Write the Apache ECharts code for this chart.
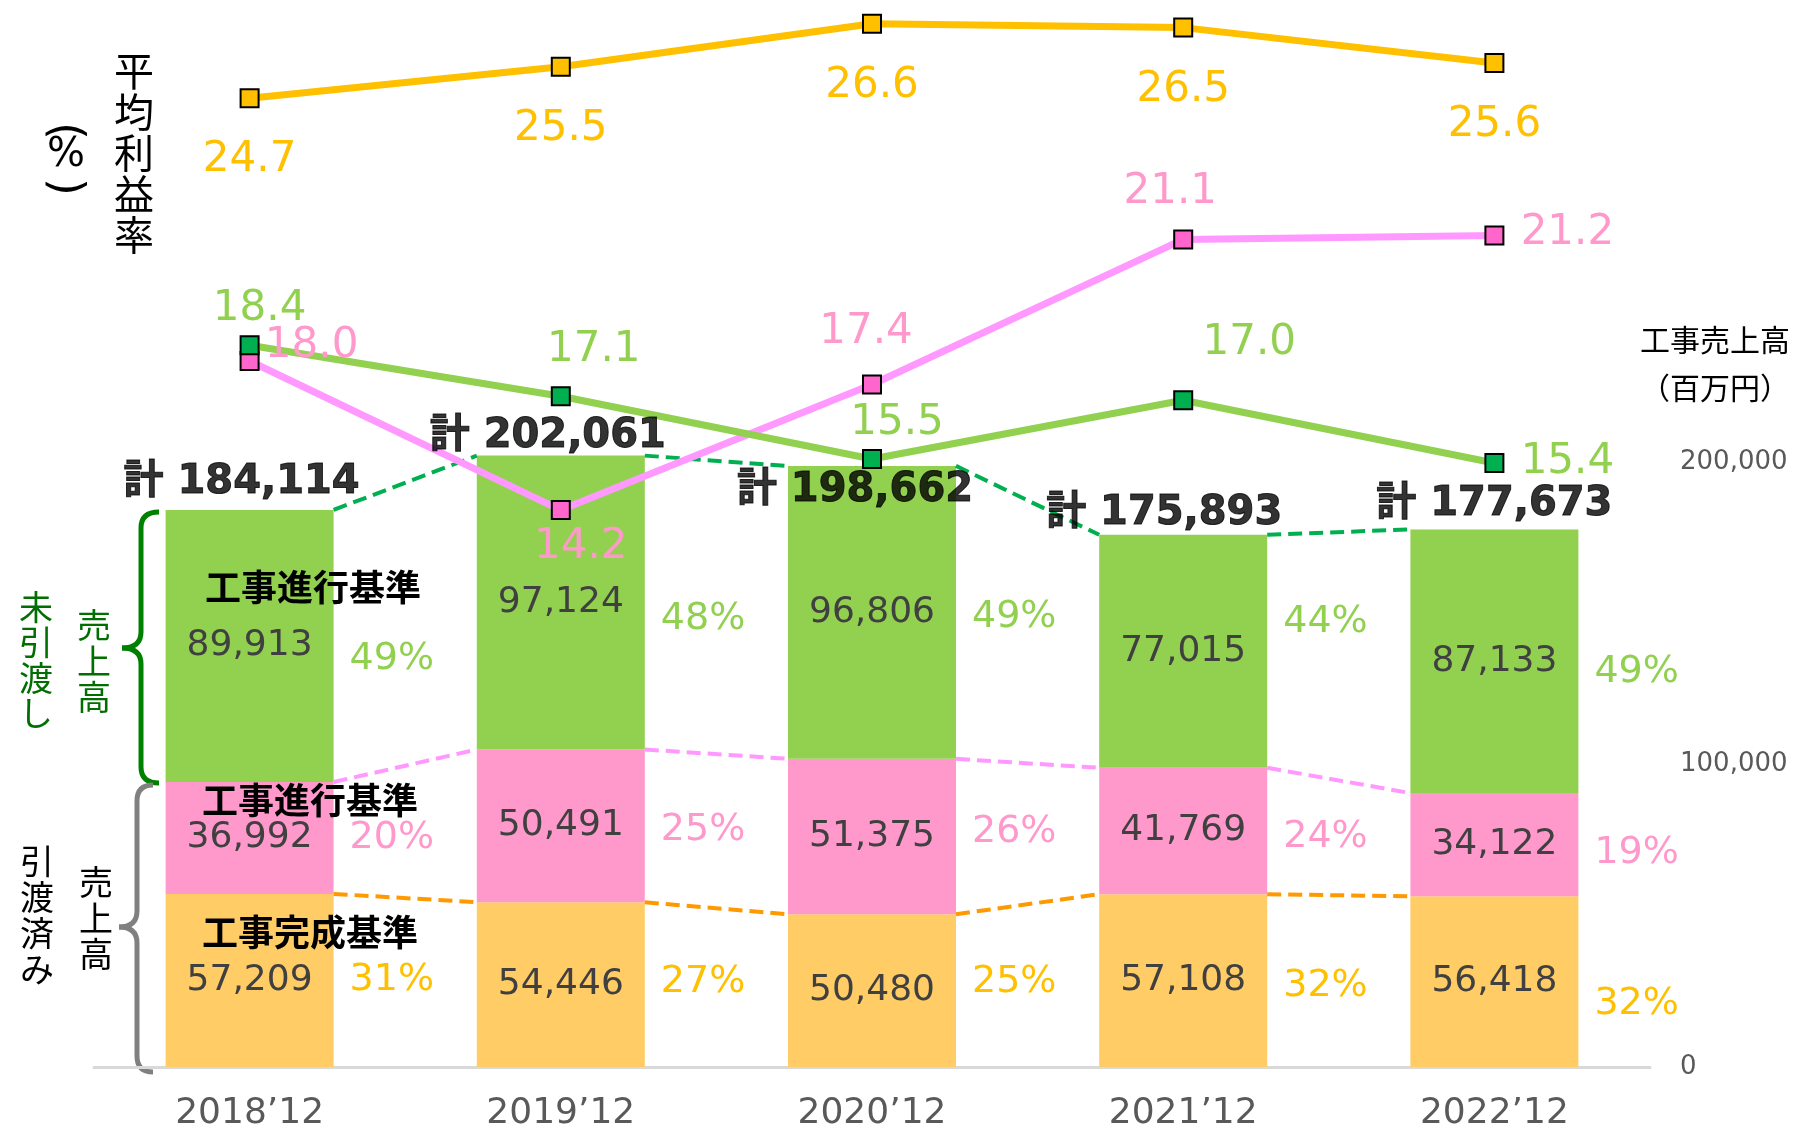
<!DOCTYPE html>
<html>
<head>
<meta charset="utf-8">
<script src="https://cdn.jsdelivr.net/npm/echarts@6/dist/echarts.min.js"></script>
<style>
    html, body { margin: 0; padding: 0; background: #fff; }
    #main { width: 1801px; height: 1133px; }
</style>
</head>
<body>
<div id="main"></div>
<script>
// 決算期
var categories = ['2018’12', '2019’12', '2020’12', '2021’12', '2022’12'];
// 工事売上高（百万円）
var completedSales = [57209, 54446, 50480, 57108, 56418];      // 引渡済み・工事完成基準
var progressDelivered = [36992, 50491, 51375, 41769, 34122];   // 引渡済み・工事進行基準
var progressUndelivered = [89913, 97124, 96806, 77015, 87133]; // 未引渡し・工事進行基準
var totals = [184114, 202061, 198662, 175893, 177673];
// 構成比（%）
var completedShare = [31, 27, 25, 32, 32];
var deliveredShare = [20, 25, 26, 24, 19];
var undeliveredShare = [49, 48, 49, 44, 49];
// 平均利益率（%）
var marginCompleted = [24.7, 25.5, 26.6, 26.5, 25.6];
var marginDelivered = [18.0, 14.2, 17.4, 21.1, 21.2];
var marginUndelivered = [18.4, 17.1, 15.5, 17.0, 15.4];
// 右軸の目盛
var salesTicks = [0, 100000, 200000];

/**
 * ラベル位置の微調整（px）
 */
var totalLabelShift = [[-8, -27], [-13, -19], [-17, 25], [-19, -21], [0, -25]];
var undeliveredPctShift = [13, 17, 5, -29, 11];
var deliveredPctShift = [0, 4, -4, 6, 8];
var completedPctShift = [0, -3, -9, 6, 22];
var marginCompletedShift = [[0, 62], [0, 62], [0, 62], [0, 62], [0, 62]];
var marginDeliveredShift = [[62, -15], [20, 37], [-6, -52], [-13, -47], [73, -2]];
var marginUndeliveredShift = [[10, -36], [33, -46], [25, -36], [66, -57], [73, -1]];

var numFont = "'DejaVu Sans', 'Noto Sans CJK JP', sans-serif";
var jpFont = "'Noto Sans CJK JP', sans-serif";
var BAR_W = 168;

var chart = echarts.init(document.getElementById('main'));

function fmt(v) {
    return Number(v).toLocaleString('en-US');
}

/**
 * 積み上げ棒（工事売上高）
 */
function salesBar(name, values, color) {
    return {
        name: name,
        type: 'bar',
        stack: 'sales',
        barWidth: BAR_W,
        barGap: '-100%',
        itemStyle: { color: color },
        label: {
            show: true,
            position: 'inside',
            fontSize: 36,
            color: '#404040',
            fontFamily: numFont,
            formatter: function (p) { return fmt(p.value); }
        },
        data: values
    };
}

/**
 * 構成比ラベル用の透明な棒
 */
function shareBar(values, shares, color, shifts) {
    return {
        type: 'bar',
        stack: 'share',
        barWidth: BAR_W,
        barGap: '-100%',
        silent: true,
        itemStyle: { color: 'rgba(0,0,0,0)' },
        label: {
            show: true,
            position: 'right',
            distance: 16,
            fontSize: 38,
            color: color,
            fontFamily: numFont,
            formatter: function (p) { return shares[p.dataIndex] + '%'; }
        },
        data: values.map(function (v, i) {
            return { value: v, label: { offset: [0, shifts[i]] } };
        })
    };
}

/**
 * 棒と棒を結ぶ破線
 */
function connector(tops, color) {
    var data = [];
    for (var i = 0; i < tops.length - 1; i++) {
        data.push([i, tops[i], tops[i + 1]]);
    }
    return {
        type: 'custom',
        silent: true,
        z: 3,
        encode: { x: 0, y: [1, 2] },
        renderItem: function (params, api) {
            var a = api.coord([api.value(0), api.value(1)]);
            var b = api.coord([api.value(0) + 1, api.value(2)]);
            var half = BAR_W / 2;
            return {
                type: 'line',
                shape: { x1: a[0] + half, y1: a[1], x2: b[0] - half, y2: b[1] },
                style: { stroke: color, lineWidth: 4, lineDash: [14, 7] }
            };
        },
        data: data
    };
}

/**
 * 平均利益率の折れ線
 */
function marginLine(name, values, lineColor, markerColor, labelColor, shifts) {
    return {
        name: name,
        type: 'line',
        yAxisIndex: 1,
        z: 6,
        symbol: 'rect',
        symbolSize: 18,
        lineStyle: { color: lineColor, width: 7 },
        itemStyle: { color: markerColor, borderColor: '#000', borderWidth: 2 },
        label: {
            show: true,
            position: 'inside',
            fontSize: 42,
            color: labelColor,
            fontFamily: numFont,
            formatter: function (p) { return p.value.toFixed(1); }
        },
        data: values.map(function (v, i) {
            return { value: v, label: { offset: shifts[i] } };
        })
    };
}

var topCompleted = completedSales.slice();
var topDelivered = completedSales.map(function (v, i) { return v + progressDelivered[i]; });
var topAll = topDelivered.map(function (v, i) { return v + progressUndelivered[i]; });

/**
 * 縦書きテキスト
 */
function vText(str, x, y, size, lh, color) {
    return {
        type: 'text',
        z: 100,
        x: x,
        y: y,
        style: {
            text: str.split('').join('\n'),
            fontSize: size,
            fontFamily: jpFont,
            fill: color,
            align: 'center',
            textAlign: 'center',
            verticalAlign: 'top',
            textVerticalAlign: 'top',
            lineHeight: lh
        }
    };
}

function hText(str, x, y, size, color, weight, family, rotation) {
    return {
        type: 'text',
        z: 100,
        x: x,
        y: y,
        rotation: rotation || 0,
        style: {
            text: str,
            fontSize: size,
            fontWeight: weight || 'normal',
            fontFamily: family || jpFont,
            fill: color,
            align: 'center',
            textAlign: 'center',
            verticalAlign: 'middle',
            textVerticalAlign: 'middle'
        }
    };
}

/**
 * 中括弧（xEnd:端, xs:縦線, xTip:先端）
 */
function brace(xEnd, xs, xTip, top, bottom, mid, color) {
    var r = 16;
    var st = { stroke: color, lineWidth: 5, fill: null };
    return [
        { type: 'bezierCurve', shape: { x1: xEnd, y1: top, x2: xs, y2: top + r, cpx1: xs, cpy1: top }, style: st },
        { type: 'line', shape: { x1: xs, y1: top + r, x2: xs, y2: mid - r }, style: st },
        { type: 'bezierCurve', shape: { x1: xs, y1: mid - r, x2: xTip, y2: mid, cpx1: xs, cpy1: mid }, style: st },
        { type: 'bezierCurve', shape: { x1: xTip, y1: mid, x2: xs, y2: mid + r, cpx1: xs, cpy1: mid }, style: st },
        { type: 'line', shape: { x1: xs, y1: mid + r, x2: xs, y2: bottom - r }, style: st },
        { type: 'bezierCurve', shape: { x1: xs, y1: bottom - r, x2: xEnd, y2: bottom, cpx1: xs, cpy1: bottom }, style: st }
    ];
}

var graphics = [
    vText('平均利益率', 134, 50, 40, 41, '#000'),
    hText('(', 64, 131, 46, '#000', 'normal', numFont, -Math.PI / 2),
    hText('%', 66, 156, 40, '#000', 'normal', numFont),
    hText(')', 64, 187, 46, '#000', 'normal', numFont, -Math.PI / 2),
    vText('未引渡し', 36, 589, 34, 35.5, '#006E00'),
    vText('売上高', 94, 607, 34, 36, '#006E00'),
    vText('引渡済み', 37, 843, 34, 36, '#000'),
    vText('売上高', 96, 864, 34, 36, '#000'),
    hText('工事売上高', 1715, 340, 30, '#000'),
    hText('（百万円）', 1715, 388, 30, '#000'),
    hText('工事進行基準', 313, 587, 36, '#000', 'bold'),
    hText('工事進行基準', 310, 800, 36, '#000', 'bold'),
    hText('工事完成基準', 310, 932, 36, '#000', 'bold')
].concat(
    brace(159, 141, 122, 512, 783, 648, '#008000'),
    brace(153, 137, 119, 785, 1072, 927, '#808080')
);

var option = {
    animation: false,
    backgroundColor: '#fff',
    grid: { left: 94, right: 151, top: 8, bottom: 66 },
    xAxis: {
        type: 'category',
        data: categories,
        axisTick: { show: false },
        axisLine: { lineStyle: { color: '#D9D9D9', width: 3 } },
        axisLabel: { fontSize: 36, color: '#595959', fontFamily: numFont, margin: 29 }
    },
    yAxis: [
        {
            type: 'value',
            position: 'right',
            min: 0,
            max: 350000,
            interval: 100000,
            splitLine: { show: false },
            axisLine: { show: false },
            axisTick: { show: false },
            axisLabel: {
                color: '#595959',
                fontSize: 26,
                fontFamily: numFont,
                margin: 30,
                formatter: function (v) { return salesTicks.indexOf(v) >= 0 ? fmt(v) : ''; }
            }
        },
        { type: 'value', min: 0, max: 27, show: false }
    ],
    series: [
        salesBar('工事完成基準', completedSales, '#FFCC66'),
        salesBar('工事進行基準（引渡済み）', progressDelivered, '#FF99CC'),
        salesBar('工事進行基準（未引渡し）', progressUndelivered, '#92D050'),
        shareBar(completedSales, completedShare, '#FFC000', completedPctShift),
        shareBar(progressDelivered, deliveredShare, '#FF99CC', deliveredPctShift),
        shareBar(progressUndelivered, undeliveredShare, '#92D050', undeliveredPctShift),
        connector(topCompleted, '#FF9900'),
        connector(topDelivered, '#FF99FF'),
        connector(topAll, '#00B050'),
        marginLine('工事完成基準', marginCompleted, '#FFC000', '#FFC000', '#FFC000', marginCompletedShift),
        marginLine('工事進行基準（引渡済み）', marginDelivered, '#FF99FF', '#FF66CC', '#FF99CC', marginDeliveredShift),
        marginLine('工事進行基準（未引渡し）', marginUndelivered, '#92D050', '#00B050', '#92D050', marginUndeliveredShift),
        {
            type: 'scatter',
            yAxisIndex: 0,
            z: 10,
            symbolSize: 1,
            silent: true,
            itemStyle: { color: 'rgba(0,0,0,0)' },
            label: {
                show: true,
                position: 'inside',
                fontSize: 40,
                fontWeight: 'bold',
                color: '#000',
                textBorderColor: '#000',
                textBorderWidth: 1,
                fontFamily: numFont,
                formatter: function (p) { return '計 ' + fmt(totals[p.dataIndex]); }
            },
            data: totals.map(function (v, i) {
                return { value: v, label: { offset: totalLabelShift[i] } };
            })
        }
    ],
    graphic: graphics
};

chart.setOption(option);
</script>
</body>
</html>
